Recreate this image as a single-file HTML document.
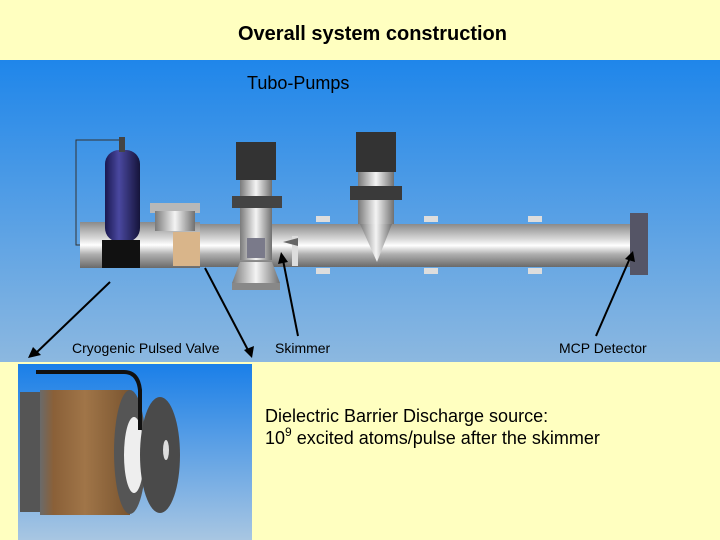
<!DOCTYPE html>
<html><head><style>
body{margin:0;width:720px;height:540px;overflow:hidden;background:#ffffc0;font-family:"Liberation Sans",sans-serif;position:relative}
.t{position:absolute;color:#000;white-space:nowrap}
</style></head><body>
<svg width="720" height="540" style="position:absolute;left:0;top:0">
<defs>
<linearGradient id="bg" x1="0" y1="0" x2="0" y2="1"><stop offset="0" stop-color="#1f86ea"/><stop offset="1" stop-color="#8cb8e0"/></linearGradient>
<linearGradient id="bg2" x1="0" y1="0" x2="0" y2="1"><stop offset="0" stop-color="#1a7fe8"/><stop offset="1" stop-color="#a8c6e2"/></linearGradient>
<linearGradient id="pipe" x1="0" y1="0" x2="0" y2="1"><stop offset="0" stop-color="#8a8a8a"/><stop offset=".35" stop-color="#d8d8d8"/><stop offset=".5" stop-color="#ffffff"/><stop offset=".7" stop-color="#b0b0b0"/><stop offset="1" stop-color="#6a6a6a"/></linearGradient>
<linearGradient id="vpipe" x1="0" y1="0" x2="1" y2="0"><stop offset="0" stop-color="#7a7a7a"/><stop offset=".5" stop-color="#f4f4f4"/><stop offset="1" stop-color="#707070"/></linearGradient>
<linearGradient id="bottle" x1="0" y1="0" x2="1" y2="0"><stop offset="0" stop-color="#1a1850"/><stop offset=".4" stop-color="#4a48a0"/><stop offset="1" stop-color="#15143a"/></linearGradient>
<linearGradient id="brass" x1="0" y1="0" x2="1" y2="0"><stop offset="0" stop-color="#6a6a6a"/><stop offset=".15" stop-color="#8a6038"/><stop offset=".5" stop-color="#a07548"/><stop offset="1" stop-color="#7a5530"/></linearGradient>
</defs>
<rect x="0" y="60" width="720" height="302" fill="url(#bg)"/>
<path d="M125,140 H76 V245 H104" fill="none" stroke="#333" stroke-width="1"/>
<rect x="80" y="222" width="120" height="46" fill="url(#pipe)"/>
<rect x="150" y="203" width="50" height="10" fill="#b8b8b8"/>
<rect x="155" y="211" width="40" height="20" fill="url(#vpipe)"/>
<rect x="105" y="150" width="35" height="92" rx="14" fill="url(#bottle)"/>
<rect x="119" y="137" width="6" height="15" fill="#444"/>
<rect x="102" y="240" width="38" height="28" fill="#111"/>
<rect x="173" y="232" width="30" height="34" fill="#d9b58a"/>
<rect x="200" y="224" width="435" height="43" fill="url(#pipe)"/>
<rect x="630" y="213" width="18" height="62" fill="#556"/>
<g fill="#ddd"><rect x="316" y="216" width="14" height="6"/><rect x="316" y="268" width="14" height="6"/><rect x="424" y="216" width="14" height="6"/><rect x="424" y="268" width="14" height="6"/><rect x="528" y="216" width="14" height="6"/><rect x="528" y="268" width="14" height="6"/><rect x="292" y="236" width="6" height="30"/></g>
<rect x="236" y="142" width="40" height="38" fill="#333"/>
<rect x="240" y="180" width="32" height="80" fill="url(#vpipe)"/>
<rect x="232" y="196" width="50" height="12" fill="#444"/>
<path d="M240,262 H272 L280,283 H232 Z" fill="url(#vpipe)"/>
<rect x="232" y="283" width="48" height="7" fill="#888"/>
<rect x="247" y="238" width="18" height="20" fill="#7a7a8a"/>
<polygon points="283,242 298,238 298,246" fill="#666"/>
<rect x="356" y="132" width="40" height="40" fill="#333"/>
<rect x="358" y="172" width="36" height="52" fill="url(#vpipe)"/>
<rect x="350" y="186" width="52" height="14" fill="#3a3a3a"/>
<polygon points="360,224 392,224 377,262" fill="url(#vpipe)"/>
<g stroke="#000" stroke-width="2" fill="none">
<line x1="110" y1="282" x2="36" y2="353"/>
<line x1="205" y1="268" x2="249" y2="352"/>
<line x1="298" y1="336" x2="283" y2="260"/>
<line x1="596" y1="336" x2="630" y2="258"/>
</g>
<g fill="#000">
<polygon points="28,358 33,347 41,355"/>
<polygon points="252,358 244,350 254,346"/>
<polygon points="281,252 278,264 288,262"/>
<polygon points="633,251 625,259 635,262"/>
</g>
<rect x="18" y="364" width="234" height="176" fill="url(#bg2)"/>
<rect x="20" y="392" width="30" height="120" fill="#555"/>
<rect x="40" y="390" width="90" height="125" fill="url(#brass)"/>
<ellipse cx="130" cy="452" rx="16" ry="62" fill="#555"/>
<ellipse cx="134" cy="455" rx="10" ry="38" fill="#eee"/>
<ellipse cx="160" cy="455" rx="20" ry="58" fill="#4a4a4a"/>
<ellipse cx="166" cy="450" rx="3" ry="10" fill="#ddd"/>
<path d="M36,372 H124 Q138,372 140,390 V430" fill="none" stroke="#111" stroke-width="4"/>
</svg>
<div class="t" style="left:238px;top:23px;font-weight:bold;font-size:20px">Overall system construction</div>
<div class="t" style="left:247px;top:73px;font-size:18px">Tubo-Pumps</div>
<div class="t" style="left:72px;top:340px;font-size:14px">Cryogenic Pulsed Valve</div>
<div class="t" style="left:275px;top:340px;font-size:14px">Skimmer</div>
<div class="t" style="left:559px;top:340px;font-size:14px">MCP Detector</div>
<div class="t" style="left:265px;top:405px;font-size:18px;line-height:22px">Dielectric Barrier Discharge source:<br>10<sup style="font-size:12px;vertical-align:8px;line-height:0">9</sup> excited atoms/pulse after the skimmer</div>
</body></html>
